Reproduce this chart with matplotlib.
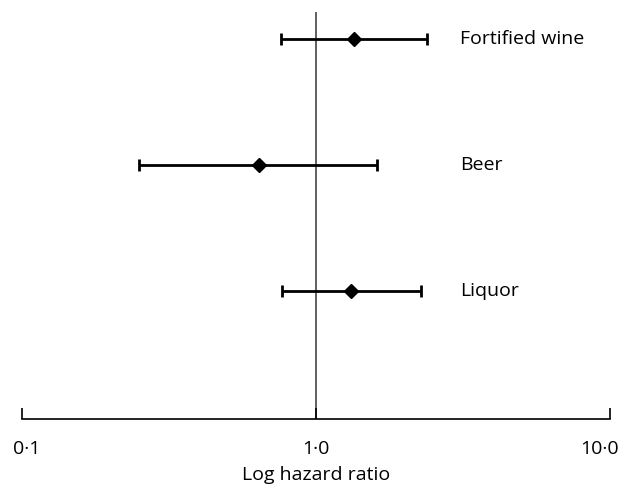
import matplotlib
matplotlib.use('Agg')
import matplotlib.pyplot as plt
from matplotlib.transforms import ScaledTranslation

# Data
labels = ['Fortified wine', 'Beer', 'Liquor']
hr = [1.35, 0.64, 1.32]
ci_low = [0.76, 0.25, 0.77]
ci_high = [2.39, 1.62, 2.27]
rows = [3, 2, 1]
tick_vals = [0.1, 1.0, 10.0]
tick_labels = ['0\u00b71', '1\u00b70', '10\u00b70']

plt.rcParams['font.family'] = ['Open Sans', 'DejaVu Sans']

fig = plt.figure(figsize=(6.21, 4.86), dpi=100)
ax = fig.add_axes([21.5 / 621, 1 - 419 / 486, (610 - 21.5) / 621, (419 - 12) / 486])

ax.axvline(1.0, color='#444444', lw=1.2, zorder=1)

for y, m, lo, hi, lab in zip(rows, hr, ci_low, ci_high, labels):
    ax.errorbar(m, y, xerr=[[m - lo], [hi - m]], fmt='D', color='black',
                ms=7, lw=2, capsize=4.5, capthick=2, zorder=3)
    ax.text(3.1, y, lab, ha='left', va='center', fontsize=14)

ax.set_xscale('log')
ax.set_xlim(0.1, 10.0)
ax.set_ylim(-0.016, 3.214)
ax.set_xticks(tick_vals)
ax.set_xticklabels(tick_labels, fontsize=14)
ax.minorticks_off()
ax.tick_params(axis='x', direction='in', length=8, width=1.2, pad=15)
ax.set_yticks([])
for s in ['left', 'right', 'top']:
    ax.spines[s].set_visible(False)
ax.spines['bottom'].set_linewidth(1.2)
ax.set_xlabel('Log hazard ratio', fontsize=14, labelpad=6)

# edge labels sit a little inside the figure, as in the original
shifts = [5, 0, -11]
for t, dx in zip(ax.get_xticklabels(), shifts):
    t.set_transform(t.get_transform() + ScaledTranslation(dx / 100, 0, fig.dpi_scale_trans))

fig.savefig('out.png', dpi=100)
